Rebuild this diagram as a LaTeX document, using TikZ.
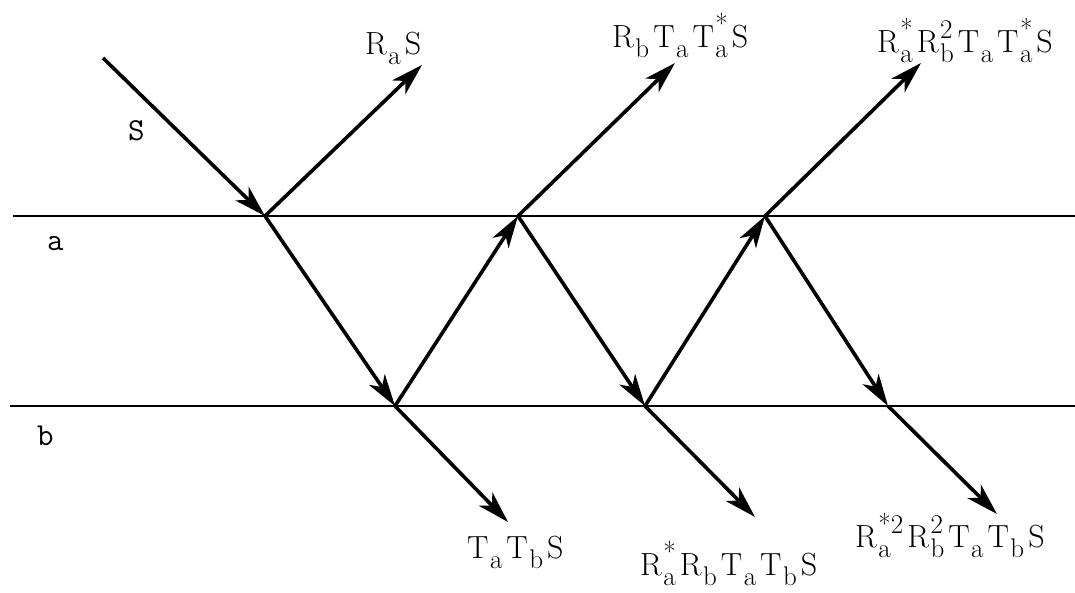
\RequirePackage{fix-cm}
\documentclass[tikz,border=0pt]{standalone}
\usetikzlibrary{arrows.meta}
\newcommand{\scr}[2]{\hspace{1.5pt}\begingroup\fontsize{27}{27}\selectfont
  \setbox0\hbox{#1}\setbox2\hbox{#2}%
  \dimen0=\wd0 \ifdim\wd2>\dimen0 \dimen0=\wd2\fi
  \makebox[\dimen0][l]{\rlap{\raisebox{-10pt}{\copy0}}\raisebox{14pt}{\copy2}}\endgroup\hspace{4pt}}
\begin{document}
\begin{tikzpicture}[x=1pt,y=-1pt,
  ray/.style={line width=3.6pt, -{Stealth[length=32pt,width=19pt,inset=9pt]}, line join=round},
  iface/.style={line width=1.9pt},
  lab/.style={anchor=base west, inner sep=0pt, font=\fontsize{32}{40}\selectfont},
  tlab/.style={anchor=base west, inner sep=0pt, font=\fontsize{32}{36}\selectfont\ttfamily}]
\useasboundingbox (0,0) rectangle (1075,593);
% interfaces
\coordinate (aL) at (13,216);
\coordinate (aR) at (1075,216);
\coordinate (bL) at (10,406);
\coordinate (bR) at (1075,406);
\draw[iface] (aL) -- (aR);
\draw[iface] (bL) -- (bR);
% points
\coordinate (s0) at (103,58);
\coordinate (A1) at (265,216);
\coordinate (B1) at (395,406);
\coordinate (A2) at (518,216);
\coordinate (B2) at (645,406);
\coordinate (A3) at (765,216);
\coordinate (B3) at (888,406);
\coordinate (r1) at (422,65);
\coordinate (r2) at (675,63);
\coordinate (r3) at (921,63);
\coordinate (t1) at (508,522);
\coordinate (t2) at (755,517);
\coordinate (t3) at (997,514);
% rays
\draw[ray] (s0) -- (A1);
\draw[ray] (A1) -- (r1);
\draw[ray] (A1) -- (B1);
\draw[ray] (B1) -- (t1);
\draw[ray] (B1) -- (A2);
\draw[ray] (A2) -- (r2);
\draw[ray] (A2) -- (B2);
\draw[ray] (B2) -- (t2);
\draw[ray] (B2) -- (A3);
\draw[ray] (A3) -- (r3);
\draw[ray] (A3) -- (B3);
\draw[ray] (B3) -- (t3);
% labels
\node[tlab] (lS) at (128,141) {S};
\node[tlab] (la) at (47,251) {a};
\node[tlab] (lb) at (37,445) {b};
\node[lab] (L1) at (365,55) {R\scr{a}{}S};
\node[lab] (L2) at (612,48) {R\scr{b}{}T\scr{a}{}T\scr{a}{*}S};
\node[lab] (L3) at (877,53) {R\scr{a}{*}R\scr{b}{2}T\scr{a}{}T\scr{a}{*}S};
\node[lab] (L4) at (467,558) {T\scr{a}{}T\scr{b}{}S};
\node[lab] (L5) at (640,575) {R\scr{a}{*}R\scr{b}{}T\scr{a}{}T\scr{b}{}S};
\node[lab] (L6) at (855,547) {R\scr{a}{*2}R\scr{b}{2}T\scr{a}{}T\scr{b}{}S};
\end{tikzpicture}
\end{document}
